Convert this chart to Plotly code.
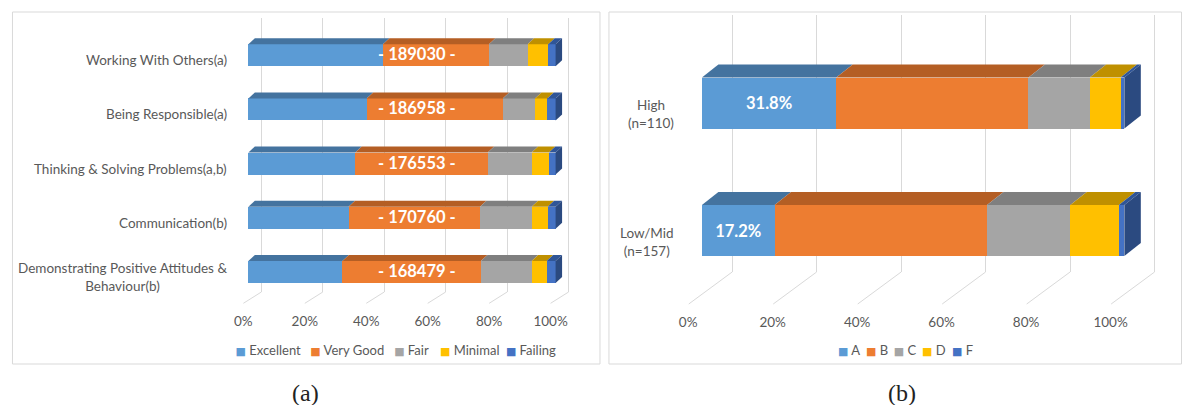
import plotly.graph_objects as go

W, H = 1184, 405

# ---------------- data: panel (a) ----------------
skills = [
    "Working With Others(a)",
    "Being Responsible(a)",
    "Thinking & Solving Problems(a,b)",
    "Communication(b)",
    "Demonstrating Positive Attitudes &<br>Behaviour(b)",
]
skill_totals = ["189030", "186958", "176553", "170760", "168479"]
levels_a = ["Excellent", "Very Good", "Fair", "Minimal", "Failing"]
excellent = [43.8, 38.5, 34.8, 32.6, 30.6]
very_good = [34.5, 44.3, 43.1, 42.8, 45.1]
fair = [12.6, 10.5, 14.3, 16.8, 16.5]
minimal = [6.7, 4.0, 5.6, 5.2, 4.9]
failing = [2.4, 2.7, 2.2, 2.6, 2.9]

# ---------------- data: panel (b) ----------------
groups = ["High<br>(n=110)", "Low/Mid<br>(n=157)"]
grades_b = ["A", "B", "C", "D", "F"]
grade_a = [31.8, 17.2]
grade_b = [45.5, 50.3]
grade_c = [14.5, 19.7]
grade_d = [7.3, 11.5]
grade_f = [0.9, 1.3]

tick_vals = [0, 20, 40, 60, 80, 100]
tick_text = ["0%", "20%", "40%", "60%", "80%", "100%"]

# ---------------- style ----------------
front_colors = ["#5B9BD5", "#ED7D31", "#A5A5A5", "#FFC000", "#4472C4"]
top_colors = ["#44739F", "#B45E24", "#7F7F7F", "#BF9000", "#2F5597"]
side_color = "#2B4A80"
grid_color = "#D9D9D9"
text_color = "#595959"
FONT = "Lato"


def fx(p):
    return p / W


def fy(p):
    return 1 - p / H


panels = [
    dict(key="a", cats=skills, series=[excellent, very_good, fair, minimal, failing],
         names=levels_a, gx="x", gy="y", bx="x3", by="y3", legend="legend",
         front0=246.0, pxu=3.08, back0=259.0, floor0=241.0, grid_top=18.0, grid_bot=292.0,
         floor_bot=303.3, row0=55.2, row_step=54.2, bar_h=22.0, depth=(6.5, 6.0),
         grid_min=-8, label_right=227, label_shift=-5, tick_standoff=19,
         box=(9.5, 598.5), caption="(a)", caption_x=303,
         legend_x=193, legend_steps=[70, 79, 41, 61, 95]),
    dict(key="b", cats=groups, series=[grade_a, grade_b, grade_c, grade_d, grade_f],
         names=grades_b, gx="x2", gy="y2", bx="x4", by="y4", legend="legend2",
         front0=700.7, pxu=4.235, back0=731.0, floor0=687.5, grid_top=15.0, grid_bot=272.0,
         floor_bot=304.0, row0=103.0, row_step=127.5, bar_h=51.0, depth=(16.5, 13.0),
         grid_min=-12, label_right=675, label_shift=-11, tick_standoff=40,
         box=(607.5, 1181.5), caption="(b)", caption_x=901,
         legend_x=797, legend_steps=[23, 23, 23.3, 25, 65]),
]


def axname(ref):
    return ("xaxis" if ref[0] == "x" else "yaxis") + ref[1:]


fig = go.Figure()
shapes = []
annotations = []
layout_axes = {}

for P in panels:
    n = len(P["cats"])
    rows = list(range(n))
    pxu = P["pxu"]
    bar_w = P["bar_h"] / P["row_step"]
    ddx = P["depth"][0] / pxu
    ddy = P["depth"][1] / P["row_step"]

    # ---- back wall grid subplot (tick labels shifted to the floor front edge)
    fig.add_trace(go.Scatter(x=[None], y=[None], xaxis=P["gx"], yaxis=P["gy"],
                             showlegend=False, hoverinfo="skip"))
    layout_axes[axname(P["gx"])] = dict(
        domain=[fx(P["back0"] + P["grid_min"] * pxu), fx(P["back0"] + 101 * pxu)],
        range=[P["grid_min"], 101], anchor=P["gy"],
        tickmode="array", tickvals=tick_vals, ticktext=tick_text, ticks="",
        showgrid=True, gridcolor=grid_color, gridwidth=1,
        zeroline=True, zerolinecolor=grid_color, zerolinewidth=1,
        showline=False, tickfont=dict(family=FONT, size=13.5, color=text_color),
        ticklabelshift=int(round(P["floor0"] - P["back0"])),
        ticklabelstandoff=int(P["tick_standoff"]),
        fixedrange=True,
    )
    layout_axes[axname(P["gy"])] = dict(
        domain=[fy(P["grid_bot"]), fy(P["grid_top"])], range=[0, 1],
        anchor=P["gx"], visible=False, fixedrange=True,
    )
    # floor lines from the back wall to the front edge
    floor_dx = (P["floor0"] - P["back0"]) / pxu
    for v in tick_vals:
        shapes.append(dict(type="line", xref=P["gx"], yref="paper",
                           x0=v, y0=fy(P["grid_bot"]), x1=v + floor_dx, y1=fy(P["floor_bot"]),
                           line=dict(color=grid_color, width=1), layer="below"))

    # ---- bars subplot
    layout_axes[axname(P["bx"])] = dict(
        domain=[fx(P["front0"] - 1 * pxu), fx(P["front0"] + 106 * pxu)],
        range=[-1, 106], anchor=P["by"], visible=False, fixedrange=True,
    )
    layout_axes[axname(P["by"])] = dict(
        domain=[fy(P["row0"] + (n - 0.5) * P["row_step"]), fy(P["row0"] - 0.5 * P["row_step"])],
        range=[n - 0.5, -0.5], anchor=P["bx"], visible=False, fixedrange=True,
    )

    starts = [0.0] * n
    for j, (vals, name) in enumerate(zip(P["series"], P["names"])):
        bar_kw = {}
        if j == 0 and P["key"] == "b":
            bar_kw = dict(text=[f"{v}%" for v in vals], textposition="inside",
                          insidetextanchor="middle", constraintext="none",
                          textfont=dict(family=FONT, size=16.5, color="white", weight="bold"))
        fig.add_trace(go.Bar(
            y=rows, x=vals, orientation="h", width=bar_w, name=name,
            marker=dict(color=front_colors[j], line=dict(width=0)),
            xaxis=P["bx"], yaxis=P["by"], showlegend=False,
            legendgroup=P["key"] + name, hovertemplate=name + ": %{x}%<extra></extra>",
            **bar_kw,
        ))
        # top faces of each segment
        for i in rows:
            s = starts[i]
            e = s + vals[i]
            yt = i - bar_w / 2
            shapes.append(dict(
                type="path", xref=P["bx"], yref=P["by"],
                path=f"M{s},{yt} L{e},{yt} L{e + ddx},{yt - ddy} L{s + ddx},{yt - ddy} Z",
                fillcolor=top_colors[j], line=dict(width=0), layer="above"))
            starts[i] = e
    # right side faces
    for i in rows:
        t = starts[i]
        yt = i - bar_w / 2
        yb = i + bar_w / 2
        shapes.append(dict(
            type="path", xref=P["bx"], yref=P["by"],
            path=f"M{t},{yt} L{t + ddx},{yt - ddy} L{t + ddx},{yb - ddy} L{t},{yb} Z",
            fillcolor=side_color, line=dict(width=0), layer="above"))

    # legend entries (coloured square drawn as text glyph)
    for j, name in enumerate(P["names"]):
        fig.add_trace(go.Scatter(
            x=[None], y=[None], mode="markers", xaxis=P["bx"], yaxis=P["by"],
            marker=dict(color="rgba(0,0,0,0)", size=1),
            name=(f'<span style="color:{front_colors[j]};font-family:DejaVu Sans;'
                  f'font-size:11px">■</span> {name}'),
            legend=P["legend"], legendgroup=P["key"] + name,
            legendwidth=P["legend_steps"][j] / W, hoverinfo="skip",
        ))

    # category labels
    for i, c in enumerate(P["cats"]):
        annotations.append(dict(
            text=c, xref="paper", x=fx(P["label_right"]), xanchor="right",
            yref=P["by"], y=i, yanchor="middle", yshift=P["label_shift"],
            align="center", showarrow=False,
            font=dict(family=FONT, size=13.5, color=text_color)))

    # panel frame and caption
    shapes.append(dict(type="rect", xref="paper", yref="paper",
                       x0=fx(P["box"][0]), x1=fx(P["box"][1]), y0=fy(364), y1=fy(12),
                       line=dict(color=grid_color, width=1), layer="below"))
    annotations.append(dict(
        text=P["caption"], xref="paper", yref="paper", x=fx(P["caption_x"]), y=fy(393),
        xanchor="center", yanchor="middle", showarrow=False,
        font=dict(family="Liberation Serif", size=24, color="#222222")))

# totals inside the orange segments of panel (a)
for i, t in enumerate(skill_totals):
    annotations.append(dict(
        text=f"- {t} -", xref="x3", yref="y3", x=55, y=i, yshift=1,
        xanchor="center", yanchor="middle", showarrow=False,
        font=dict(family=FONT, size=16.5, color="white", weight="bold")))

legend_common = dict(orientation="h", yanchor="middle", y=fy(350), xanchor="left",
                     entrywidthmode="fraction", bgcolor="rgba(0,0,0,0)",
                     font=dict(family=FONT, size=13, color=text_color))

fig.update_layout(
    width=W, height=H, margin=dict(l=0, r=0, t=0, b=0),
    paper_bgcolor="white", plot_bgcolor="rgba(0,0,0,0)",
    barmode="stack", showlegend=True,
    font=dict(family=FONT, color=text_color),
    legend=dict(x=fx(panels[0]["legend_x"]), **legend_common),
    legend2=dict(x=fx(panels[1]["legend_x"]), **legend_common),
    shapes=shapes, annotations=annotations,
    **layout_axes,
)

fig.write_html("out.html")
